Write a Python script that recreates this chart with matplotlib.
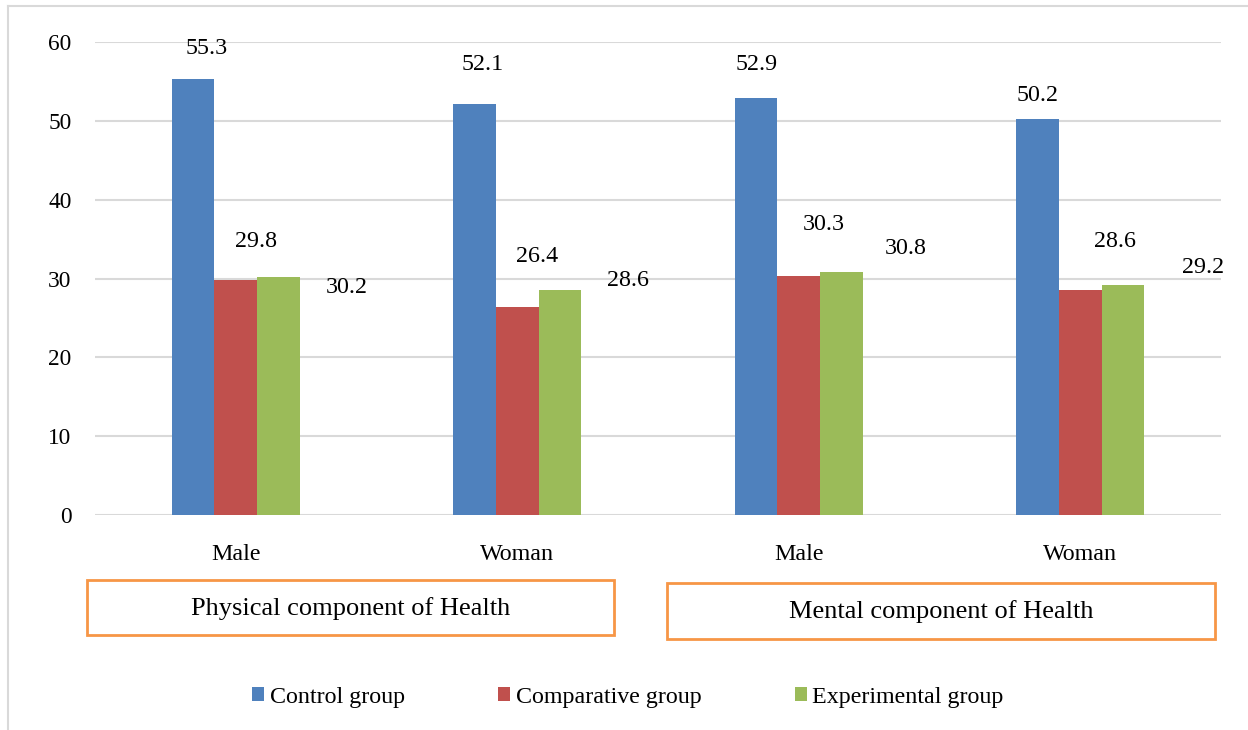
import matplotlib
matplotlib.use("Agg")
import matplotlib.pyplot as plt
from matplotlib.patches import Rectangle
from matplotlib.lines import Line2D
import numpy as np

plt.rcParams['font.family'] = ['Liberation Serif', 'DejaVu Serif']

categories = ["Male", "Woman", "Male", "Woman"]
series_names = ["Control group", "Comparative group", "Experimental group"]
control = [55.3, 52.1, 52.9, 50.2]
comparative = [29.8, 26.4, 30.3, 28.6]
experimental = [30.2, 28.6, 30.8, 29.2]
components = ["Physical component of Health", "Mental component of Health"]
yticks = [0, 10, 20, 30, 40, 50, 60]

colors = ["#4F81BD", "#C0504D", "#9BBB59"]
# per-label offsets (pixels) of each value label from the top centre of its bar
label_dx = [[13, 8, 0, 0], [20, 20, 25, 35], [68, 68, 64, 80]]
label_dy = [[31, 40, 33, 24], [39, 50, 52, 48], [-11, 9.5, 24, 17]]

W, H = 1248, 730
fig = plt.figure(figsize=(W / 100, H / 100), dpi=100)
ax = fig.add_axes([95 / W, 1 - 515 / H, (1221 - 95) / W, (515 - 42) / H])

x = np.arange(len(categories))
bw = 0.151
series = [control, comparative, experimental]
for i, (vals, col, name) in enumerate(zip(series, colors, series_names)):
    pos = x + (i - 1) * bw
    ax.bar(pos, vals, width=bw, color=col, label=name, zorder=3)
    for j, v in enumerate(vals):
        ax.annotate(f"{v:.1f}", xy=(pos[j], v), xycoords="data",
                    xytext=(label_dx[i][j], label_dy[i][j]),
                    textcoords="offset pixels", ha="center", va="center",
                    fontsize=17.3, color="#000000")

ax.set_xlim(-0.5, len(categories) - 0.5)
ax.set_ylim(0, 60)
ax.set_yticks(yticks)
ax.set_xticks(x)
ax.set_xticklabels(categories, fontsize=17.3)
ax.tick_params(axis="both", length=0, colors="#000000")
ax.tick_params(axis="y", pad=17, labelsize=16.8)
ax.tick_params(axis="x", pad=21)
for s in ax.spines.values():
    s.set_visible(False)
ax.grid(axis="y", color="#D9D9D9", linewidth=1.5, zorder=0)
ax.set_axisbelow(True)

# group boxes below the category labels
boxes = [(87, 580, 614, 635), (667, 583, 1215, 639)]
for (x0, y0, x1, y1), txt in zip(boxes, components):
    fig.add_artist(Rectangle((x0 / W, 1 - y1 / H), (x1 - x0) / W, (y1 - y0) / H,
                             transform=fig.transFigure, fill=False,
                             edgecolor="#F79646", linewidth=2))
    fig.text((x0 + x1) / 2 / W, 1 - ((y0 + y1) / 2 + 1) / H, txt, ha="center",
             va="center", fontsize=19, color="#000000")

# outer frame
fig.add_artist(Line2D([8 / W, 8 / W], [0, 1 - 6 / H], transform=fig.transFigure,
                      color="#D9D9D9", linewidth=1.5))
fig.add_artist(Line2D([8 / W, 1], [1 - 6 / H, 1 - 6 / H], transform=fig.transFigure,
                      color="#D9D9D9", linewidth=1.5))

handles, labels = ax.get_legend_handles_labels()
fig.legend(handles, labels, loc="center", bbox_to_anchor=(628 / W, 1 - 697 / H),
           ncol=3, frameon=False, fontsize=17.3, handlelength=0.5, handleheight=0.5,
           handletextpad=0.22, columnspacing=3.9)

fig.savefig("out.png", dpi=100, facecolor="white")
